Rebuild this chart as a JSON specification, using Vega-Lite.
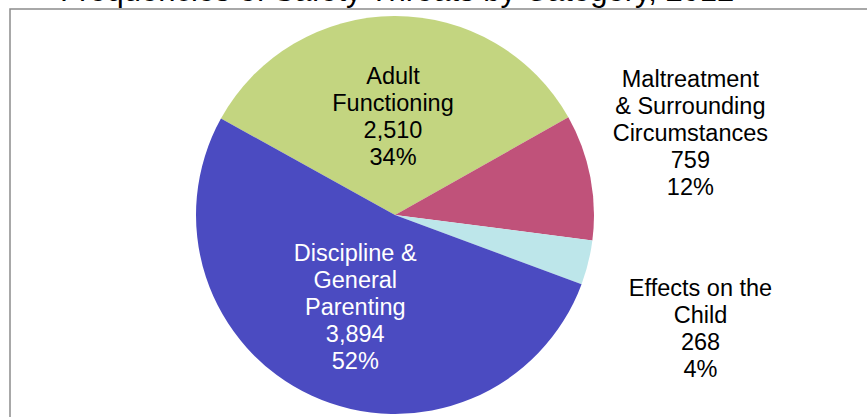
{
  "$schema": "https://vega.github.io/schema/vega-lite/v6.json",
  "autosize": {"type": "none"},
  "padding": {"left": 10, "top": 9, "right": 0, "bottom": 0},
  "width": 857,
  "height": 408,
  "background": "white",
  "config": {
    "view": {"stroke": "#8c8c8c", "strokeWidth": 1.5, "strokeDash": [857, 1265, 408]},
    "font": "Liberation Sans"
  },
  "title": {
    "text": "Frequencies of Safety Threats by Category, 2012",
    "anchor": "start",
    "frame": "group",
    "dx": 50,
    "offset": 1,
    "fontSize": 31,
    "fontWeight": "normal",
    "font": "Liberation Sans",
    "color": "black"
  },
  "data": {
    "values": [
      {"category": "Adult Functioning", "label": "Adult\nFunctioning\n2,510\n34%", "count": 2510, "ord": 1},
      {"category": "Maltreatment & Surrounding Circumstances", "label": "Maltreatment\n& Surrounding\nCircumstances\n759\n12%", "count": 759, "ord": 2},
      {"category": "Effects on the Child", "label": "Effects on the\nChild\n268\n4%", "count": 268, "ord": 3},
      {"category": "Discipline & General Parenting", "label": "Discipline &\nGeneral\nParenting\n3,894\n52%", "count": 3894, "ord": 4}
    ]
  },
  "encoding": {
    "theta": {"field": "count", "type": "quantitative", "stack": true, "scale": {"range": [-1.0647, 5.2185]}},
    "order": {"field": "ord", "type": "quantitative"},
    "x": {"value": 385},
    "y": {"value": 206}
  },
  "layer": [
    {
      "mark": {"type": "arc", "outerRadius": 199},
      "encoding": {
        "color": {
          "field": "category",
          "type": "nominal",
          "legend": null,
          "scale": {
            "domain": ["Adult Functioning", "Maltreatment & Surrounding Circumstances", "Effects on the Child", "Discipline & General Parenting"],
            "range": ["#c3d580", "#c0527a", "#bde6ea", "#4b4bc1"]
          }
        }
      }
    },
    {
      "mark": {"type": "text", "clip": true, "radius": 138, "dx": -1.5, "dy": 0, "fontSize": 23.5, "lineHeight": 27, "lineBreak": "\n", "align": "center", "baseline": "middle", "color": "black"},
      "encoding": {"text": {"condition": {"test": "datum.ord == 1", "field": "label"}, "value": ""}}
    },
    {
      "mark": {"type": "text", "clip": true, "radius": 306, "dx": -5, "dy": -77, "fontSize": 23.5, "lineHeight": 27, "lineBreak": "\n", "align": "center", "baseline": "middle", "color": "black"},
      "encoding": {"text": {"condition": {"test": "datum.ord == 2", "field": "label"}, "value": ""}}
    },
    {
      "mark": {"type": "text", "clip": true, "radius": 326, "dx": -11, "dy": -4, "fontSize": 23.5, "lineHeight": 27, "lineBreak": "\n", "align": "center", "baseline": "middle", "color": "black"},
      "encoding": {"text": {"condition": {"test": "datum.ord == 3", "field": "label"}, "value": ""}}
    },
    {
      "mark": {"type": "text", "clip": true, "radius": 100, "dx": 2, "dy": -52, "fontSize": 23.5, "lineHeight": 27, "lineBreak": "\n", "align": "center", "baseline": "middle", "color": "white"},
      "encoding": {"text": {"condition": {"test": "datum.ord == 4", "field": "label"}, "value": ""}}
    }
  ]
}
